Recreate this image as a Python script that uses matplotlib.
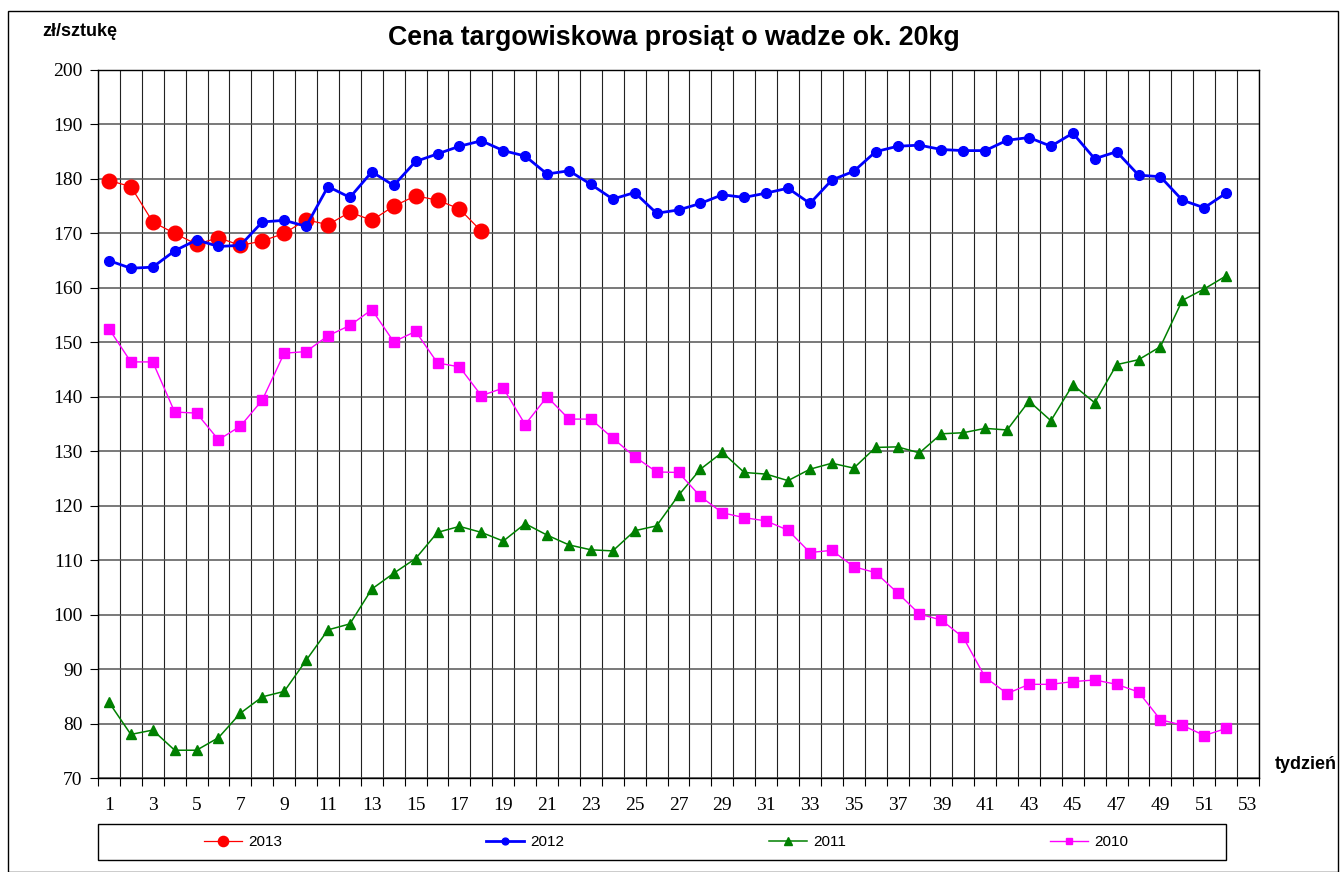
import numpy as np
import matplotlib
matplotlib.use("Agg")
import matplotlib.pyplot as plt
from matplotlib.patches import Rectangle

# dane (zł/sztukę, tydzień 1..52)
tyg_2013 = list(range(1, 19))
cena_2013 = [179.7, 178.6, 172.1, 170.0, 168.0, 169.2, 167.8, 168.6, 170.0, 172.5,
             171.6, 173.9, 172.4, 175.0, 176.9, 176.1, 174.5, 170.4]

tygodnie = list(range(1, 53))
cena_2012 = [165.0, 163.6, 163.8, 166.8, 168.8, 167.6, 167.8, 172.1, 172.4, 171.3,
             178.6, 176.6, 181.3, 178.8, 183.2, 184.6, 186.0, 187.0, 185.2, 184.2,
             180.9, 181.5, 179.0, 176.3, 177.5, 173.7, 174.3, 175.5, 177.1, 176.6,
             177.4, 178.3, 175.5, 179.8, 181.4, 185.0, 186.0, 186.2, 185.4, 185.2,
             185.2, 187.1, 187.6, 186.0, 188.4, 183.7, 185.0, 180.7, 180.4, 176.1,
             174.7, 177.4]
cena_2011 = [83.9, 78.0, 78.8, 75.1, 75.1, 77.4, 81.9, 84.9, 85.9, 91.6,
             97.2, 98.3, 104.7, 107.6, 110.3, 115.1, 116.2, 115.1, 113.5, 116.7,
             114.6, 112.8, 111.9, 111.7, 115.4, 116.3, 121.9, 126.7, 129.8, 126.1,
             125.8, 124.6, 126.7, 127.8, 126.9, 130.7, 130.8, 129.7, 133.2, 133.4,
             134.2, 133.9, 139.2, 135.6, 142.2, 138.9, 145.9, 146.8, 149.2, 157.7,
             159.8, 162.2]
cena_2010 = [152.5, 146.4, 146.4, 137.2, 137.0, 132.1, 134.6, 139.4, 148.0, 148.3,
             151.2, 153.1, 156.0, 150.1, 152.0, 146.2, 145.5, 140.2, 141.6, 134.9,
             140.0, 135.9, 135.9, 132.4, 129.0, 126.2, 126.1, 121.7, 118.7, 117.8,
             117.2, 115.5, 111.4, 111.8, 108.8, 107.7, 104.0, 100.1, 99.0, 95.8,
             88.5, 85.5, 87.2, 87.2, 87.7, 88.0, 87.2, 85.8, 80.7, 79.7,
             77.8, 79.1]

W, H = 1340, 872
fig = plt.figure(figsize=(W / 100, H / 100), dpi=100)
ax = fig.add_axes([98 / W, 1 - 778 / H, (1259 - 98) / W, (778 - 70) / H])

ax.plot(tyg_2013, cena_2013, color="red", lw=0.9, marker="o", ms=10.5,
        label="2013", zorder=3)
ax.plot(tygodnie, cena_2012, color="blue", lw=2.0, marker="o", ms=7,
        label="2012", zorder=4)
ax.plot(tygodnie, cena_2011, color="#008000", lw=1.1, marker="^", ms=7.5,
        label="2011", zorder=5)
ax.plot(tygodnie, cena_2010, color="magenta", lw=1.0, marker="s", ms=6.5,
        label="2010", zorder=6)

ax.set_xlim(0.5, 53.5)
ax.set_ylim(70, 200)
ax.set_yticks(np.arange(70, 201, 10))
ax.set_xticks(np.arange(1, 54, 2))
ax.set_xticks(np.arange(0.5, 53.6, 1), minor=True)
ax.tick_params(axis="x", which="major", length=0, pad=14)
ax.tick_params(axis="x", which="minor", length=6, width=0.8, direction="out")
ax.tick_params(axis="y", length=6, width=0.8, direction="out", pad=5)
ax.tick_params(axis="both", which="major", labelsize=14,
               labelfontfamily="Liberation Serif")

ax.grid(True, axis="y", which="major", color="#555555", lw=1.1)
ax.grid(True, axis="x", which="minor", color="#222222", lw=0.8)
ax.set_axisbelow(True)
for s in ax.spines.values():
    s.set_linewidth(1)

fig.text(674 / W, 1 - 38 / H, "Cena targowiskowa prosiąt o wadze ok. 20kg",
         ha="center", va="center", fontsize=19.3, fontweight="bold",
         family="Liberation Sans")
fig.text(42 / W, 1 - 31 / H, "zł/sztukę", ha="left", va="center",
         fontsize=13, fontweight="bold", family="Liberation Sans")
fig.text(1275 / W, 1 - 764 / H, "tydzień", ha="left", va="center",
         fontsize=13, fontweight="bold", family="Liberation Sans")

# ramka wykresu i ramka legendy
fig.patches.append(Rectangle((8 / W, 0), (1338 - 8) / W, 1 - 11 / H,
                             transform=fig.transFigure, fill=False,
                             ec="black", lw=1))
fig.patches.append(Rectangle((98 / W, 1 - 860 / H), (1226 - 98) / W, 36 / H,
                             transform=fig.transFigure, fill=False,
                             ec="black", lw=1))

leg = fig.legend(loc="center", bbox_to_anchor=(666 / W, 1 - 842 / H), ncol=4,
                 frameon=False, handlelength=2.5, handletextpad=0.4,
                 columnspacing=13.35, markerscale=0.7,
                 prop={"family": "Liberation Sans", "size": 11})

fig.savefig("out.png", dpi=100)
